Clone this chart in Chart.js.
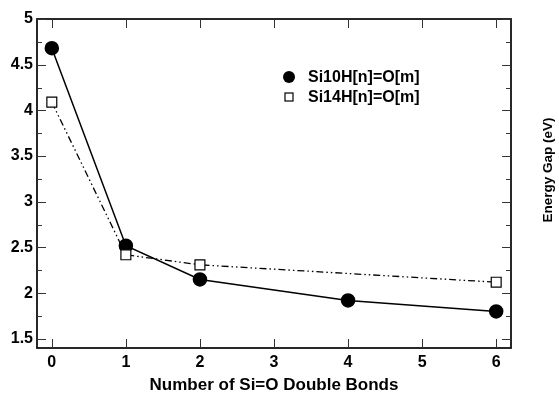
<!DOCTYPE html>
<html>
<head>
<meta charset="utf-8">
<script src="https://cdn.jsdelivr.net/npm/chart.js@4/dist/chart.umd.min.js"></script>
<style>
  html, body { margin: 0; padding: 0; background: #fff; }
  #wrap { width: 559px; height: 396px; }
</style>
</head>
<body>
<div id="wrap"><canvas id="chart" width="559" height="396"></canvas></div>
<script>
// data
const si10X = [0, 1, 2, 4, 6];
const si10Y = [4.68, 2.52, 2.15, 1.92, 1.80];
const si14X = [0, 1, 2, 6];
const si14Y = [4.09, 2.42, 2.31, 2.12];
const xTicks = [0, 1, 2, 3, 4, 5, 6];
const yTicks = [1.5, 2, 2.5, 3, 3.5, 4, 4.5, 5];
const yMinor = [1.75, 2.25, 2.75, 3.25, 3.75, 4.25, 4.75];
const seriesNames = ['Si10H[n]=O[m]', 'Si14H[n]=O[m]'];

const FONT = '"Liberation Sans", Arial, sans-serif';

function toPoints(xs, ys) {
  return xs.map((x, i) => ({ x: x, y: ys[i] }));
}

// frame, inward ticks, legend and the right-hand y title
const decorations = {
  id: 'decorations',
  afterDraw(chart) {
    const c = chart.ctx;
    const a = chart.chartArea;
    const xs = chart.scales.x, ys = chart.scales.y;
    c.save();
    c.strokeStyle = '#111';
    c.lineWidth = 1.8;
    c.strokeRect(a.left, a.top, a.right - a.left, a.bottom - a.top);

    c.lineWidth = 1;
    c.strokeStyle = '#333';
    c.beginPath();
    xTicks.forEach(v => {
      const px = Math.round(xs.getPixelForValue(v)) + 0.5;
      c.moveTo(px, a.bottom); c.lineTo(px, a.bottom - 9);
      c.moveTo(px, a.top); c.lineTo(px, a.top + 9);
    });
    yTicks.forEach(v => {
      const py = Math.round(ys.getPixelForValue(v)) + 0.5;
      c.moveTo(a.left, py); c.lineTo(a.left + 9, py);
      c.moveTo(a.right, py); c.lineTo(a.right - 9, py);
    });
    yMinor.forEach(v => {
      const py = Math.round(ys.getPixelForValue(v)) + 0.5;
      c.moveTo(a.left, py); c.lineTo(a.left + 5, py);
      c.moveTo(a.right, py); c.lineTo(a.right - 5, py);
    });
    c.stroke();

    // legend
    c.font = 'bold 16px ' + FONT;
    c.fillStyle = '#000';
    c.strokeStyle = '#000';
    c.textBaseline = 'middle';
    c.beginPath();
    c.arc(289, 77, 6, 0, Math.PI * 2);
    c.fill();
    c.fillText(seriesNames[0], 308, 78);
    c.fillStyle = '#fff';
    c.fillRect(285, 93, 8, 8);
    c.lineWidth = 1.2;
    c.strokeRect(285, 93, 8, 8);
    c.fillStyle = '#000';
    c.fillText(seriesNames[1], 308, 98);

    // y title on the right, reading bottom to top
    c.translate(548, 170);
    c.rotate(-Math.PI / 2);
    c.textAlign = 'center';
    c.font = 'bold 13.5px ' + FONT;
    c.fillText('Energy Gap (eV)', 0, 0);
    c.restore();
  }
};

new Chart(document.getElementById('chart'), {
  type: 'scatter',
  data: {
    datasets: [
      {
        label: seriesNames[0],
        data: toPoints(si10X, si10Y),
        showLine: true,
        borderColor: '#000',
        borderWidth: 1.5,
        pointStyle: 'circle',
        pointRadius: 6.5,
        pointBackgroundColor: '#000',
        pointBorderColor: '#000',
        order: 1
      },
      {
        label: seriesNames[1],
        data: toPoints(si14X, si14Y),
        showLine: true,
        borderColor: '#000',
        borderWidth: 1.3,
        borderDash: [7, 3, 1.5, 3, 1.5, 3],
        pointStyle: 'rect',
        pointRadius: 7,
        pointBackgroundColor: '#fff',
        pointBorderColor: '#000',
        pointBorderWidth: 1.2,
        order: 0
      }
    ]
  },
  options: {
    responsive: false,
    animation: false,
    layout: { padding: { top: 19, right: 48, left: 0, bottom: 0 } },
    plugins: {
      legend: { display: false },
      tooltip: { enabled: false }
    },
    scales: {
      x: {
        type: 'linear',
        min: -0.2,
        max: 6.2,
        grid: { display: false, drawTicks: false },
        border: { display: false },
        afterBuildTicks: s => { s.ticks = xTicks.map(v => ({ value: v })); },
        afterFit: s => { s.height = 48; },
        ticks: {
          color: '#000',
          padding: 5,
          autoSkip: false,
          maxRotation: 0,
          sampleSize: xTicks.length,
          font: { family: FONT, size: 16, weight: 'bold' },
          callback: v => String(v)
        },
        title: {
          display: true,
          text: 'Number of Si=O Double Bonds',
          color: '#000',
          padding: { top: 5, bottom: 0 },
          font: { family: FONT, size: 17, weight: 'bold' }
        }
      },
      y: {
        min: 1.4,
        max: 5,
        grid: { display: false, drawTicks: false },
        border: { display: false },
        afterBuildTicks: s => { s.ticks = yTicks.map(v => ({ value: v })); },
        afterFit: s => { s.width = 37; },
        ticks: {
          color: '#000',
          padding: 4,
          autoSkip: false,
          font: { family: FONT, size: 16, weight: 'bold' },
          callback: v => String(v)
        }
      }
    }
  },
  plugins: [decorations]
});
</script>
</body>
</html>
